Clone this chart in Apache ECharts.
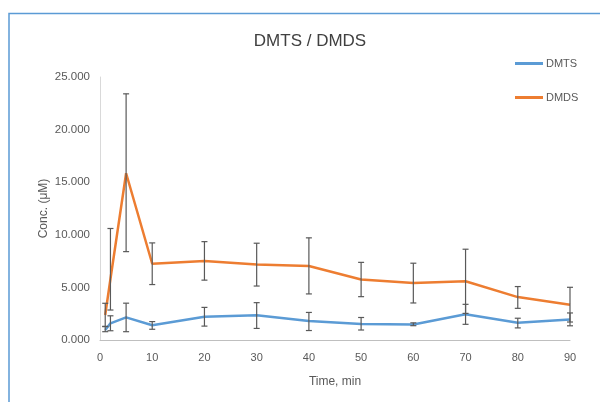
<!DOCTYPE html>
<html>
<head>
<meta charset="utf-8">
<script src="https://cdn.jsdelivr.net/npm/echarts@6/dist/echarts.min.js"></script>
<style>html,body{margin:0;padding:0;background:#fff;}#c{width:600px;height:402px;}</style>
</head>
<body>
<div id="c"></div>
<script>
var times = [1, 2, 5, 10, 20, 30, 40, 50, 60, 70, 80, 90];
var dmts = [0.95, 1.58, 2.15, 1.40, 2.20, 2.35, 1.80, 1.52, 1.48, 2.44, 1.65, 1.95];
var dmtsErrPlus = [0.35, 0.72, 1.35, 0.35, 0.90, 1.20, 0.82, 0.62, 0.15, 0.95, 0.42, 0.62];
var dmtsErrMinus = [0.16, 0.70, 1.36, 0.38, 0.88, 1.25, 0.90, 0.57, 0.12, 0.95, 0.50, 0.60];
var dmds = [2.38, 5.80, 15.85, 7.25, 7.52, 7.18, 7.03, 5.75, 5.42, 5.58, 4.08, 3.36];
var dmdsErrPlus = [1.11, 4.80, 7.55, 1.98, 1.83, 2.02, 2.68, 1.63, 1.88, 3.05, 1.00, 1.65];
var dmdsErrMinus = [1.11, 2.95, 7.45, 1.98, 1.83, 2.05, 2.65, 1.63, 1.90, 3.05, 1.07, 1.65];
var xTicks = [0, 10, 20, 30, 40, 50, 60, 70, 80, 90];
var yTicks = [0, 5, 10, 15, 20, 25];

function pairs(v) { return times.map(function (t, i) { return [t, v[i]]; }); }
function errData(v, p, m) { return times.map(function (t, i) { return [t, v[i] - m[i], v[i] + p[i]]; }); }
function errSeries(data) {
  return {
    type: 'custom', silent: true, z: 5,
    renderItem: function (params, api) {
      var x = api.value(0);
      var lo = api.coord([x, api.value(1)]);
      var hi = api.coord([x, api.value(2)]);
      var w = 3;
      var st = { stroke: '#595959', lineWidth: 1.2 };
      return { type: 'group', children: [
        { type: 'line', shape: { x1: lo[0], y1: lo[1], x2: hi[0], y2: hi[1] }, style: st },
        { type: 'line', shape: { x1: lo[0] - w, y1: lo[1], x2: lo[0] + w, y2: lo[1] }, style: st },
        { type: 'line', shape: { x1: hi[0] - w, y1: hi[1], x2: hi[0] + w, y2: hi[1] }, style: st }
      ]};
    },
    encode: { x: 0, y: [1, 2] },
    data: data
  };
}

var chart = echarts.init(document.getElementById('c'), null, { renderer: 'canvas' });
chart.setOption({
  animation: false,
  backgroundColor: '#fff',
  textStyle: { fontFamily: 'Liberation Sans, Arial, sans-serif' },
  title: {
    text: 'DMTS / DMDS', left: 305, top: 28, textAlign: 'center',
    textStyle: { fontSize: 17, fontWeight: 'normal', color: '#404040' }
  },
  graphic: [
    { type: 'polyline', shape: { points: [[9, 402], [9, 13.5], [600, 13.5]] },
      style: { stroke: '#5b9bd5', lineWidth: 1.5, fill: null }, z: 100 }
  ],
  legend: {
    orient: 'vertical', left: 510, top: 53, itemGap: 23,
    itemWidth: 28, itemHeight: 3, icon: 'rect',
    textStyle: { fontSize: 11, color: '#595959', padding: [0, 0, 0, -2] },
    data: ['DMTS', 'DMDS']
  },
  grid: { left: 100, right: 30, top: 77, bottom: 62 },
  xAxis: {
    type: 'value', min: 0, max: 90, interval: 10,
    name: 'Time, min', nameLocation: 'middle', nameGap: 36,
    nameTextStyle: { fontSize: 12, color: '#595959' },
    axisLine: { lineStyle: { color: '#bfbfbf' } },
    axisTick: { show: false },
    splitLine: { show: false },
    axisLabel: { fontSize: 11, color: '#595959', margin: 12,
      formatter: function (v) { return xTicks.indexOf(v) >= 0 ? String(v) : ''; } }
  },
  yAxis: {
    type: 'value', min: 0, max: 25, interval: 5,
    name: 'Conc. (μM)', nameLocation: 'middle', nameGap: 50, nameRotate: 90,
    nameMoveOverlap: false,
    nameTextStyle: { fontSize: 12, color: '#595959' },
    axisLine: { show: true, lineStyle: { color: '#d9d9d9' } },
    axisTick: { show: false },
    splitLine: { show: false },
    axisLabel: { fontSize: 11.5, color: '#595959', margin: 10,
      formatter: function (v) { return yTicks.indexOf(v) >= 0 ? v.toFixed(3) : ''; } }
  },
  series: [
    { name: 'DMTS', type: 'line', data: pairs(dmts), showSymbol: false, symbol: 'none',
      lineStyle: { color: '#5b9bd5', width: 2.5 }, itemStyle: { color: '#5b9bd5' }, z: 3 },
    { name: 'DMDS', type: 'line', data: pairs(dmds), showSymbol: false, symbol: 'none',
      lineStyle: { color: '#ed7d31', width: 2.5 }, itemStyle: { color: '#ed7d31' }, z: 3 },
    errSeries(errData(dmts, dmtsErrPlus, dmtsErrMinus)),
    errSeries(errData(dmds, dmdsErrPlus, dmdsErrMinus))
  ]
});
</script>
</body>
</html>
